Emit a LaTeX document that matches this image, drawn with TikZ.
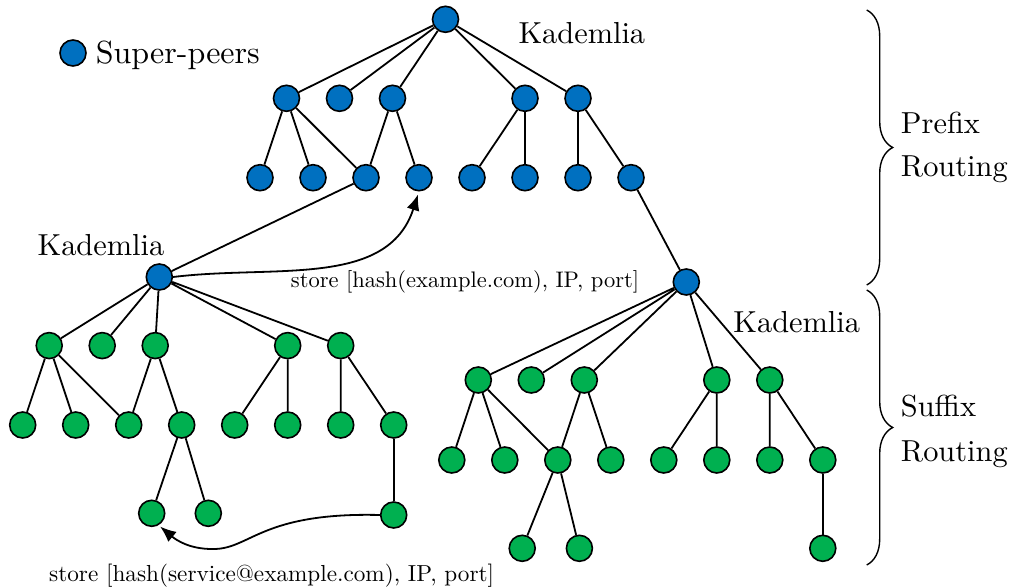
\documentclass[tikz,border=0pt]{standalone}
\usepackage{fontspec}
\setmainfont{lmroman10-regular}[Extension=.otf]
\usetikzlibrary{positioning, arrows.meta, decorations.pathreplacing}

\definecolor{spblue}{HTML}{0070C0}
\definecolor{pgreen}{HTML}{00B050}

\tikzset{
    sp/.style={circle, draw=black, fill=spblue, line width=1.6pt, minimum size=26pt, inner sep=0pt},
    pr/.style={sp, fill=pgreen},
    lbl/.style={font=\fontsize{30.4}{36}\selectfont, inner sep=0pt, anchor=base west},
    storelbl/.style={font=\fontsize{22.5}{27}\selectfont, inner sep=0pt, anchor=base west},
    curly/.style={decorate, decoration={brace, amplitude=26pt}, line width=1.4pt},
}

\begin{document}
\begin{tikzpicture}[x=1pt, y=-1pt, line width=1.8pt, node distance=51.8pt and 25.4pt]
            \useasboundingbox (0,0) rectangle (1012,588);

            % super-peers (prefix routing)
            \node[sp] (b21) at (260,177.7) {};
            \node[sp, right=of b21] (b22) {};
            \node[sp, right=of b22] (b23) {};
            \node[sp, right=of b23] (b24) {};
            \node[sp, right=of b24] (b25) {};
            \node[sp, right=of b25] (b26) {};
            \node[sp, right=of b26] (b27) {};
            \node[sp, right=of b27] (b28) {};
            \node[sp, above=of b21, xshift=26.5pt] (b11) {};
            \node[sp, above=of b22, xshift=26.5pt] (b12) {};
            \node[sp, above=of b23, xshift=26.5pt] (b13) {};
            \node[sp, above=of b26] (b14) {};
            \node[sp, above=of b27] (b15) {};
            \node[sp, above=51.4pt of b13, xshift=53pt] (b0) {};
            \node[sp] (k1) at (159.3,277) {};
            \node[sp] (k2) at (686.3,282) {};

            \draw (b0) -- (b11) (b0) -- (b12) (b0) -- (b13) (b0) -- (b14) (b0) -- (b15);
            \draw (b11) -- (b21) (b11) -- (b22) (b11) -- (b23);
            \draw (b13) -- (b23) (b13) -- (b24);
            \draw (b14) -- (b25) (b14) -- (b26);
            \draw (b15) -- (b27) (b15) -- (b28);
            \draw (b23) -- (k1);
            \draw (b28) -- (k2);

            % peers under the left super-peer
            \node[pr] (g21) at (22.7,425) {};
            \node[pr, right=of g21] (g22) {};
            \node[pr, right=of g22] (g23) {};
            \node[pr, right=of g23] (g24) {};
            \node[pr, right=of g24] (g25) {};
            \node[pr, right=of g25] (g26) {};
            \node[pr, right=of g26] (g27) {};
            \node[pr, right=of g27] (g28) {};
            \node[pr, above=of g21, xshift=26.5pt] (g11) {};
            \node[pr, above=of g22, xshift=26.5pt] (g12) {};
            \node[pr, above=of g23, xshift=26.5pt] (g13) {};
            \node[pr, above=of g26] (g14) {};
            \node[pr, above=of g27] (g15) {};
            \node[pr, below=60.7pt of g24, xshift=-30pt] (g31) {};
            \node[pr, below=60.7pt of g24, xshift=26.6pt] (g32) {};
            \node[pr, below=62.4pt of g28] (g33) {};

            \draw (k1) -- (g11) (k1) -- (g12) (k1) -- (g13) (k1) -- (g14) (k1) -- (g15);
            \draw (g11) -- (g21) (g11) -- (g22) (g11) -- (g23);
            \draw (g13) -- (g23) (g13) -- (g24);
            \draw (g14) -- (g25) (g14) -- (g26);
            \draw (g15) -- (g27) (g15) -- (g28);
            \draw (g24) -- (g31) (g24) -- (g32);
            \draw (g28) -- (g33);

            % peers under the right super-peer (suffix routing)
            \node[pr] (s21) at (451.8,460) {};
            \node[pr, right=of s21] (s22) {};
            \node[pr, right=of s22] (s23) {};
            \node[pr, right=of s23] (s24) {};
            \node[pr, right=of s24] (s25) {};
            \node[pr, right=of s25] (s26) {};
            \node[pr, right=of s26] (s27) {};
            \node[pr, right=of s27] (s28) {};
            \node[pr, above=52.4pt of s21, xshift=26.5pt] (s11) {};
            \node[pr, above=52.4pt of s22, xshift=26.5pt] (s12) {};
            \node[pr, above=52.4pt of s23, xshift=26.5pt] (s13) {};
            \node[pr, above=52.4pt of s26] (s14) {};
            \node[pr, above=52.4pt of s27] (s15) {};
            \node[pr, below=60.7pt of s23, xshift=-35.6pt] (s31) {};
            \node[pr, below=60.7pt of s23, xshift=21.6pt] (s32) {};
            \node[pr, below=60.7pt of s28] (s33) {};

            \draw (k2) -- (s11) (k2) -- (s12) (k2) -- (s13) (k2) -- (s14) (k2) -- (s15);
            \draw (s11) -- (s21) (s11) -- (s22) (s11) -- (s23);
            \draw (s13) -- (s23) (s13) -- (s24);
            \draw (s14) -- (s25) (s14) -- (s26);
            \draw (s15) -- (s27) (s15) -- (s28);
            \draw (s23) -- (s31) (s23) -- (s32);
            \draw (s28) -- (s33);

            % store messages
            \draw[-{Latex[length=16pt, width=13pt]}, shorten >=3pt] (k1.east) to[out=7, in=-108] (b24.south);
            \coordinate (dip) at (212,549);
            \draw[-{Latex[length=16pt, width=13pt]}, shorten >=2pt] (g33.west) .. controls (260,512) and (250,550) .. (dip) to[out=180, in=-40] (g31.-60);
            \node[storelbl] (st1) at (290,287.3) {store [hash(example.com), IP, port]};
            \node[storelbl, font=\fontsize{23.2}{27}\selectfont] (st2) at (48.3,581) {store [hash(service@example.com), IP, port]};

            % labels
            \node[sp] (leg) at (73,53) {};
            \node[lbl, font=\fontsize{32}{38}\selectfont] (legt) at (95,64) {Super-peers};
            \node[lbl] (kad0) at (517.6,43.3) {Kademlia};
            \node[lbl] (kad1) at (36.7,255) {Kademlia};
            \node[lbl] (kad2) at (732.5,332.7) {Kademlia};

            \draw[curly] (866.7,10) -- (866.7,285);
            \draw[curly] (866.7,290) -- (866.7,565);
            \node[lbl] (pfx) at (900,133.3) {Prefix};
            \node[lbl] (prt) at (900,176.5) {Routing};
            \node[lbl] (sfx) at (900,416.7) {Suffix};
            \node[lbl] (srt) at (900,461.7) {Routing};
        \end{tikzpicture}
\end{document}
